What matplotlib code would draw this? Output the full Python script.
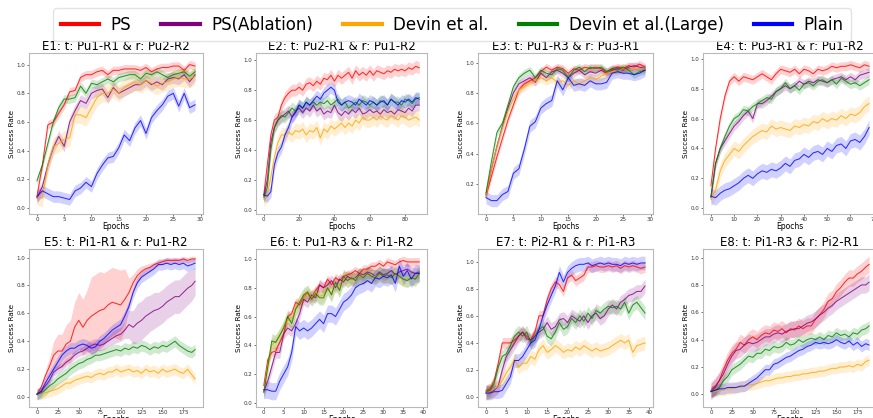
import numpy as np
import matplotlib
matplotlib.use("Agg")
import matplotlib.pyplot as plt
from matplotlib.lines import Line2D
from matplotlib.ticker import MultipleLocator

methods = ["PS", "PS(Ablation)", "Devin et al.", "Devin et al.(Large)", "Plain"]
colors = ["red", "purple", "orange", "green", "blue"]
titles = ["E1: t: Pu1-R1 & r: Pu2-R2", "E2: t: Pu2-R1 & r: Pu1-R2",
          "E3: t: Pu1-R3 & r: Pu3-R1", "E4: t: Pu3-R1 & r: Pu1-R2",
          "E5: t: Pi1-R1 & r: Pu1-R2", "E6: t: Pu1-R3 & r: Pi1-R2",
          "E7: t: Pi2-R1 & r: Pi1-R3", "E8: t: Pi1-R3 & r: Pi2-R1"]
x_steps = [5, 20, 5, 10, 25, 5, 5, 25]

# ---------------- E1 ----------------
e1_epochs = list(range(30))
e1_ps = [0.08,0.30,0.58,0.60,0.66,0.72,0.81,0.82,0.91,0.93, 0.93,0.95,0.96,0.93,0.96,0.96,0.97,0.97,0.97,0.96, 0.98,0.95,0.97,0.98,0.98,0.99,0.99,0.96,1.00,0.99]
e1_abl = [0.07,0.15,0.30,0.42,0.50,0.43,0.60,0.68,0.75,0.73, 0.80,0.82,0.83,0.77,0.84,0.80,0.82,0.84,0.86,0.86, 0.89,0.86,0.88,0.86,0.90,0.91,0.90,0.93,0.88,0.93]
e1_devin = [0.08,0.07,0.30,0.43,0.45,0.48,0.49,0.65,0.65,0.63, 0.70,0.77,0.80,0.80,0.83,0.80,0.84,0.86,0.88,0.86, 0.89,0.87,0.85,0.87,0.88,0.90,0.91,0.90,0.90,0.92]
e1_large = [0.19,0.30,0.45,0.60,0.70,0.76,0.76,0.77,0.85,0.80, 0.87,0.86,0.88,0.90,0.88,0.91,0.92,0.93,0.93,0.90, 0.94,0.93,0.95,0.93,0.91,0.93,0.94,0.95,0.92,0.95]
e1_plain = [0.08,0.12,0.10,0.08,0.08,0.07,0.06,0.12,0.14,0.18, 0.15,0.24,0.30,0.35,0.36,0.42,0.51,0.47,0.56,0.61, 0.52,0.63,0.68,0.72,0.78,0.80,0.71,0.80,0.70,0.72]
e1_band = [0.03, 0.04, 0.06, 0.03, 0.04]

# ---------------- E2 ----------------
e2_epochs = list(range(0, 90, 2))
e2_ps = [0.10,0.30,0.50,0.60,0.62,0.70,0.75,0.78,0.80,0.80, 0.82,0.80,0.84,0.85,0.83,0.86,0.84,0.88,0.87,0.90, 0.86,0.90,0.88,0.90,0.92,0.88,0.93,0.90,0.92,0.90, 0.93,0.90,0.93,0.92,0.91,0.93,0.92,0.94,0.93,0.94, 0.93,0.95,0.94,0.96,0.95]
e2_abl = [0.09,0.20,0.45,0.55,0.60,0.62,0.64,0.66,0.62,0.66, 0.68,0.65,0.68,0.66,0.70,0.66,0.68,0.64,0.66,0.65, 0.70,0.65,0.63,0.66,0.64,0.67,0.65,0.68,0.64,0.65, 0.67,0.65,0.66,0.64,0.67,0.65,0.66,0.64,0.67,0.66, 0.65,0.68,0.66,0.70,0.70]
e2_devin = [0.07,0.10,0.22,0.35,0.45,0.50,0.50,0.52,0.50,0.53, 0.52,0.54,0.50,0.53,0.52,0.55,0.48,0.54,0.52,0.56, 0.54,0.56,0.58,0.55,0.58,0.56,0.60,0.58,0.62,0.60, 0.60,0.62,0.60,0.63,0.61,0.60,0.63,0.62,0.60,0.63, 0.62,0.60,0.61,0.62,0.60]
e2_large = [0.08,0.15,0.40,0.55,0.60,0.63,0.62,0.65,0.68,0.66, 0.70,0.68,0.72,0.70,0.72,0.70,0.72,0.71,0.73,0.70, 0.72,0.74,0.70,0.72,0.68,0.70,0.72,0.70,0.73,0.72, 0.70,0.72,0.70,0.73,0.72,0.70,0.74,0.72,0.72,0.70, 0.74,0.73,0.71,0.74,0.75]
e2_plain = [0.10,0.09,0.12,0.30,0.38,0.42,0.50,0.55,0.62,0.65, 0.70,0.68,0.72,0.70,0.73,0.76,0.74,0.78,0.80,0.82, 0.80,0.72,0.70,0.72,0.73,0.72,0.70,0.74,0.72,0.70, 0.73,0.72,0.70,0.72,0.73,0.70,0.74,0.72,0.70,0.73, 0.72,0.74,0.72,0.75,0.74]
e2_band = [0.04, 0.04, 0.05, 0.04, 0.04]

# ---------------- E3 ----------------
e3_epochs = list(range(30))
e3_ps = [0.12,0.25,0.38,0.50,0.62,0.72,0.82,0.86,0.88,0.90, 0.94,0.97,0.95,0.97,0.96,0.93,0.96,0.95,0.97,0.96, 0.97,0.96,0.94,0.96,0.97,0.96,0.98,0.97,0.99,0.97]
e3_abl = [0.13,0.30,0.45,0.58,0.70,0.80,0.86,0.88,0.90,0.87, 0.93,0.90,0.94,0.95,0.93,0.90,0.93,0.95,0.92,0.94, 0.93,0.95,0.93,0.95,0.96,0.95,0.97,0.98,0.97,0.96]
e3_devin = [0.12,0.30,0.45,0.57,0.68,0.76,0.82,0.84,0.87,0.88, 0.90,0.88,0.90,0.87,0.88,0.85,0.88,0.86,0.88,0.90, 0.89,0.91,0.93,0.94,0.95,0.96,0.95,0.96,0.96,0.96]
e3_large = [0.14,0.35,0.54,0.60,0.72,0.84,0.90,0.93,0.95,0.90, 0.95,0.93,0.92,0.96,0.95,0.90,0.95,0.97,0.94,0.97, 0.96,0.97,0.94,0.96,0.95,0.97,0.95,0.92,0.94,0.95]
e3_plain = [0.11,0.09,0.09,0.13,0.15,0.27,0.30,0.43,0.58,0.61, 0.70,0.73,0.75,0.88,0.82,0.90,0.85,0.86,0.85,0.88, 0.86,0.86,0.87,0.93,0.94,0.93,0.93,0.92,0.93,0.95]
e3_band = [0.025, 0.025, 0.03, 0.025, 0.04]

# ---------------- E4 ----------------
e4_epochs = list(range(0, 70, 2))
e4_ps = [0.15,0.40,0.60,0.75,0.85,0.88,0.85,0.88,0.87,0.86, 0.88,0.90,0.88,0.86,0.90,0.93,0.92,0.91,0.93,0.90, 0.93,0.92,0.90,0.93,0.92,0.93,0.95,0.94,0.95,0.95, 0.96,0.95,0.94,0.96,0.95]
e4_abl = [0.07,0.30,0.40,0.45,0.50,0.55,0.58,0.62,0.65,0.60, 0.70,0.70,0.72,0.75,0.78,0.80,0.82,0.80,0.82,0.85, 0.83,0.85,0.84,0.86,0.85,0.84,0.86,0.87,0.88,0.86, 0.88,0.86,0.89,0.90,0.91]
e4_devin = [0.06,0.12,0.25,0.32,0.36,0.40,0.38,0.42,0.45,0.48, 0.50,0.52,0.51,0.55,0.53,0.54,0.53,0.52,0.55,0.54, 0.56,0.55,0.58,0.57,0.60,0.58,0.60,0.59,0.62,0.60, 0.63,0.62,0.64,0.68,0.70]
e4_large = [0.08,0.30,0.40,0.48,0.55,0.60,0.62,0.66,0.65,0.68, 0.70,0.72,0.74,0.73,0.78,0.80,0.84,0.80,0.82,0.79, 0.83,0.84,0.82,0.85,0.86,0.84,0.86,0.83,0.87,0.85, 0.83,0.84,0.82,0.84,0.86]
e4_plain = [0.08,0.07,0.10,0.12,0.13,0.15,0.17,0.20,0.22,0.20, 0.23,0.25,0.24,0.26,0.25,0.27,0.30,0.28,0.32,0.33, 0.36,0.34,0.37,0.38,0.36,0.40,0.38,0.42,0.43,0.40, 0.45,0.46,0.44,0.48,0.54]
e4_band = [0.03, 0.03, 0.05, 0.03, 0.05]

# ---------------- E5 ----------------
e5_epochs = list(range(0, 190, 5)) + [189]
e5_ps = [0.02,0.07,0.15,0.22,0.30,0.33,0.33,0.38,0.40,0.50, 0.55,0.50,0.55,0.58,0.60,0.62,0.63,0.66,0.68,0.67, 0.66,0.70,0.75,0.82,0.87,0.90,0.92,0.93,0.95,0.96, 0.97,0.98,0.98,0.98,0.98,0.99,0.98,0.99,0.99]
e5_abl = [0.02,0.04,0.08,0.12,0.18,0.20,0.22,0.25,0.27,0.30, 0.32,0.33,0.35,0.37,0.38,0.37,0.38,0.40,0.42,0.44, 0.45,0.48,0.52,0.50,0.53,0.55,0.58,0.60,0.62,0.63, 0.65,0.68,0.70,0.72,0.72,0.75,0.78,0.80,0.83]
e5_devin = [0.02,0.02,0.03,0.04,0.05,0.06,0.08,0.10,0.10,0.12, 0.13,0.14,0.15,0.14,0.16,0.17,0.16,0.18,0.18,0.20, 0.18,0.19,0.20,0.18,0.19,0.17,0.20,0.18,0.19,0.17, 0.20,0.18,0.19,0.20,0.18,0.17,0.20,0.16,0.13]
e5_large = [0.02,0.03,0.05,0.08,0.10,0.13,0.15,0.17,0.20,0.22, 0.24,0.25,0.27,0.28,0.30,0.30,0.31,0.32,0.33,0.34, 0.33,0.35,0.34,0.36,0.35,0.37,0.36,0.34,0.36,0.35, 0.37,0.36,0.38,0.40,0.37,0.35,0.33,0.32,0.34]
e5_plain = [0.02,0.04,0.10,0.15,0.20,0.25,0.30,0.33,0.35,0.35, 0.37,0.38,0.37,0.35,0.36,0.40,0.42,0.45,0.48,0.50, 0.52,0.58,0.65,0.75,0.82,0.86,0.88,0.90,0.92,0.95, 0.95,0.96,0.95,0.96,0.95,0.96,0.94,0.95,0.96]
e5_ps_band = [0.01,0.02,0.04,0.06,0.10,0.12,0.12,0.14,0.15,0.18, 0.20,0.20,0.22,0.28,0.28,0.28,0.26,0.25,0.25,0.25, 0.25,0.22,0.10,0.06,0.05,0.04,0.03,0.03,0.02,0.02, 0.02,0.02,0.02,0.02,0.02,0.02,0.02,0.02,0.02]
e5_abl_band = [0.01,0.02,0.02,0.03,0.03,0.03,0.03,0.03,0.03,0.03, 0.03,0.03,0.04,0.04,0.04,0.04,0.04,0.04,0.05,0.05, 0.05,0.06,0.10,0.12,0.14,0.14,0.14,0.13,0.13,0.12, 0.12,0.12,0.12,0.12,0.12,0.12,0.12,0.11,0.10]
e5_band = [e5_ps_band, e5_abl_band, 0.04, 0.04, 0.04]

# ---------------- E6 ----------------
e6_epochs = list(range(40))
e6_ps = [0.12,0.30,0.35,0.36,0.42,0.48,0.60,0.62,0.70,0.68, 0.74,0.76,0.73,0.78,0.82,0.80,0.86,0.82,0.87,0.85, 0.88,0.89,0.90,0.92,0.90,0.93,0.93,0.95,0.95,0.97, 0.95,0.98,0.97,0.96,0.98,0.99,0.98,0.98,0.98,0.98]
e6_abl = [0.08,0.15,0.25,0.35,0.35,0.48,0.52,0.50,0.55,0.62, 0.72,0.70,0.75,0.73,0.82,0.80,0.82,0.85,0.80,0.86, 0.84,0.88,0.86,0.87,0.90,0.89,0.91,0.90,0.88,0.91, 0.89,0.90,0.92,0.89,0.91,0.92,0.93,0.91,0.90,0.91]
e6_devin = [0.08,0.26,0.40,0.43,0.46,0.53,0.58,0.57,0.66,0.70, 0.74,0.76,0.73,0.77,0.74,0.75,0.80,0.76,0.83,0.79, 0.87,0.86,0.86,0.86,0.88,0.88,0.89,0.88,0.88,0.89, 0.88,0.88,0.88,0.89,0.87,0.86,0.86,0.87,0.87,0.89]
e6_large = [0.07,0.25,0.43,0.42,0.47,0.52,0.60,0.55,0.65,0.70, 0.75,0.77,0.72,0.76,0.73,0.73,0.80,0.75,0.84,0.78, 0.88,0.85,0.87,0.85,0.89,0.87,0.90,0.88,0.87,0.90, 0.88,0.89,0.87,0.90,0.88,0.86,0.85,0.87,0.86,0.90]
e6_plain = [0.09,0.09,0.08,0.08,0.15,0.20,0.25,0.35,0.53,0.50, 0.52,0.50,0.52,0.55,0.58,0.55,0.62,0.62,0.60,0.65, 0.70,0.72,0.75,0.80,0.82,0.83,0.85,0.83,0.87,0.86, 0.88,0.87,0.89,0.83,0.95,0.88,0.92,0.86,0.90,0.90]
e6_band = [0.03, 0.04, 0.05, 0.05, 0.06]

# ---------------- E7 ----------------
e7_epochs = list(range(40))
e7_ps = [0.05,0.06,0.12,0.25,0.40,0.40,0.40,0.42,0.45,0.48, 0.45,0.42,0.48,0.60,0.60,0.72,0.80,0.85,0.83,0.78, 0.88,0.90,0.86,0.88,0.90,0.96,0.96,0.97,0.96,0.96, 0.97,0.96,0.97,0.95,0.97,0.96,0.97,0.96,0.95,0.96]
e7_abl = [0.03,0.04,0.05,0.08,0.20,0.30,0.35,0.40,0.45,0.48, 0.43,0.42,0.45,0.48,0.50,0.55,0.50,0.52,0.57,0.58, 0.55,0.60,0.58,0.56,0.60,0.55,0.60,0.62,0.58,0.60, 0.65,0.68,0.65,0.70,0.72,0.75,0.76,0.78,0.78,0.82]
e7_devin = [0.03,0.04,0.06,0.08,0.12,0.18,0.22,0.28,0.22,0.25, 0.25,0.30,0.28,0.35,0.38,0.33,0.35,0.38,0.36,0.33, 0.35,0.34,0.37,0.35,0.38,0.36,0.34,0.36,0.34,0.35, 0.36,0.38,0.40,0.42,0.40,0.42,0.33,0.38,0.39,0.40]
e7_large = [0.04,0.05,0.10,0.22,0.30,0.32,0.38,0.45,0.48,0.45, 0.48,0.40,0.45,0.50,0.52,0.45,0.43,0.48,0.55,0.50, 0.52,0.58,0.55,0.60,0.56,0.62,0.58,0.64,0.62,0.65, 0.67,0.66,0.67,0.65,0.70,0.62,0.68,0.70,0.66,0.62]
e7_plain = [0.03,0.03,0.04,0.04,0.05,0.10,0.15,0.27,0.27,0.30, 0.35,0.40,0.42,0.50,0.60,0.68,0.75,0.82,0.92,0.85, 0.92,0.95,0.97,0.98,0.98,0.99,0.97,0.98,0.99,0.98, 0.99,0.98,0.98,0.97,0.99,0.98,0.99,0.98,0.99,0.99]
e7_band = [0.04, 0.05, 0.05, 0.05, 0.05]

# ---------------- E8 ----------------
e8_epochs = list(range(0, 190, 5)) + [189]
e8_ps = [0.03,0.06,0.10,0.18,0.25,0.30,0.33,0.38,0.36,0.40, 0.42,0.40,0.43,0.45,0.44,0.47,0.46,0.48,0.45,0.48, 0.47,0.50,0.48,0.50,0.50,0.55,0.58,0.62,0.68,0.70, 0.75,0.78,0.82,0.85,0.85,0.88,0.90,0.93,0.95]
e8_abl = [0.02,0.05,0.10,0.15,0.22,0.28,0.32,0.33,0.36,0.38, 0.37,0.38,0.40,0.42,0.42,0.44,0.45,0.44,0.46,0.47, 0.48,0.48,0.50,0.52,0.53,0.55,0.58,0.60,0.63,0.65, 0.68,0.70,0.72,0.74,0.76,0.78,0.80,0.80,0.82]
e8_devin = [0.02,0.02,0.03,0.03,0.04,0.04,0.05,0.05,0.06,0.07, 0.07,0.08,0.09,0.10,0.10,0.11,0.12,0.12,0.13,0.13, 0.14,0.14,0.15,0.15,0.16,0.16,0.17,0.17,0.18,0.19, 0.19,0.20,0.20,0.21,0.20,0.22,0.21,0.24,0.25]
e8_large = [0.02,0.03,0.05,0.10,0.13,0.18,0.20,0.22,0.25,0.28, 0.27,0.30,0.30,0.33,0.32,0.35,0.34,0.35,0.38,0.36, 0.37,0.40,0.38,0.40,0.41,0.40,0.42,0.40,0.43,0.42, 0.45,0.43,0.44,0.42,0.45,0.44,0.47,0.48,0.50]
e8_plain = [0.02,0.03,0.04,0.04,0.05,0.05,0.05,0.06,0.06,0.08, 0.10,0.12,0.15,0.18,0.18,0.22,0.23,0.25,0.27,0.28, 0.30,0.32,0.33,0.35,0.36,0.38,0.37,0.38,0.37,0.38, 0.40,0.38,0.37,0.39,0.36,0.38,0.35,0.37,0.36]
e8_band = [0.06, 0.06, 0.04, 0.04, 0.04]

experiments = [
    (e1_epochs, [e1_ps, e1_abl, e1_devin, e1_large, e1_plain], e1_band),
    (e2_epochs, [e2_ps, e2_abl, e2_devin, e2_large, e2_plain], e2_band),
    (e3_epochs, [e3_ps, e3_abl, e3_devin, e3_large, e3_plain], e3_band),
    (e4_epochs, [e4_ps, e4_abl, e4_devin, e4_large, e4_plain], e4_band),
    (e5_epochs, [e5_ps, e5_abl, e5_devin, e5_large, e5_plain], e5_band),
    (e6_epochs, [e6_ps, e6_abl, e6_devin, e6_large, e6_plain], e6_band),
    (e7_epochs, [e7_ps, e7_abl, e7_devin, e7_large, e7_plain], e7_band),
    (e8_epochs, [e8_ps, e8_abl, e8_devin, e8_large, e8_plain], e8_band),
]

W, H = 873, 418
fig = plt.figure(figsize=(W / 100, H / 100), dpi=100)
fig.patch.set_facecolor("white")

col_left = [29, 256, 478, 703]
col_width = [174, 171, 175, 174]
row_top = [53, 249]
row_height = [161, 158]

for i, (ep, series, bands) in enumerate(experiments):
    r, c = divmod(i, 4)
    ax = fig.add_axes([col_left[c] / W, (H - row_top[r] - row_height[r]) / H,
                       col_width[c] / W, row_height[r] / H])
    x = np.array(ep)
    for s, col, b in zip(series, colors, bands):
        y = np.array(s)
        sd = np.array(b) if np.ndim(b) else b
        ax.fill_between(x, y - sd, y + sd, color=col, alpha=0.18, linewidth=0)
        ax.plot(x, y, color=col, linewidth=0.75, alpha=0.8)
    ax.set_title(titles[i], fontsize=8.5, pad=2)
    ax.set_xlabel("Epochs", fontsize=5.5, labelpad=0)
    ax.set_ylabel("Success Rate", fontsize=5.2, labelpad=1)
    ax.xaxis.set_major_locator(MultipleLocator(x_steps[i]))
    ax.yaxis.set_major_locator(MultipleLocator(0.2))
    ax.tick_params(labelsize=4, length=1.5, width=0.5, pad=1, colors="#333333")
    for sp in ax.spines.values():
        sp.set_color("#b8b8b8")
        sp.set_linewidth(0.8)

handles = [Line2D([0], [0], color=col, linewidth=3) for col in colors]
fig.legend(handles, methods, loc="upper center", bbox_to_anchor=(0.518, 1.0),
           ncol=5, fontsize=12, handlelength=2.3, columnspacing=1.8,
           handletextpad=0.7, frameon=True, fancybox=True, edgecolor="#dddddd",
           borderpad=0.45)

fig.savefig("out.png", dpi=100, facecolor="white")
